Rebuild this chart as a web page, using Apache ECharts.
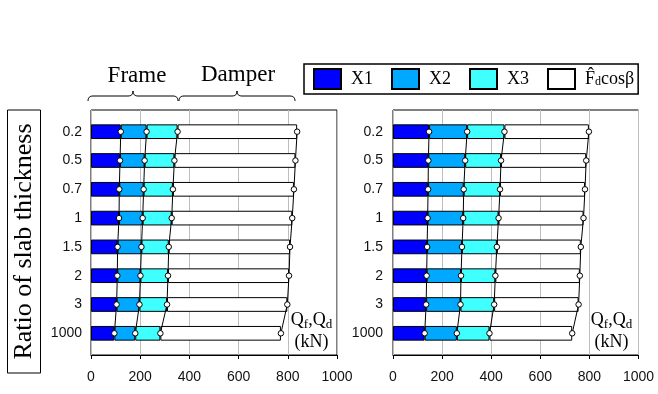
<!DOCTYPE html>
<html>
<head>
<meta charset="utf-8">
<script src="https://cdn.jsdelivr.net/npm/echarts@6/dist/echarts.min.js"></script>
<style>html,body{margin:0;padding:0;background:#fff}#c{width:658px;height:394px}</style>
</head>
<body>
<div id="c"></div>
<script>
const categories = ['0.2','0.5','0.7','1','1.5','2','3','1000'];
const xTicks = [0, 200, 400, 600, 800, 1000];
const seriesNames = ['X1','X2','X3','F'];
// Left panel segment values (kN)
const leftX1 = [121,118,115,114,108,107,104,95];
const leftX2 = [105,100,99,96,97,94,93,85];
const leftX3 = [126,121,119,118,111,112,112,102];
const leftF  = [486,492,492,490,493,492,489,490];
// Right panel segment values (kN)
const rightX1 = [147,144,143,141,139,137,135,129];
const rightX2 = [155,150,145,145,142,140,140,131];
const rightX3 = [152,146,148,144,142,140,137,133];
const rightF  = [344,347,346,346,342,344,344,337];

const colors = ['#0000FF','#00A8FF','#40FFFF','#FFFFFF'];
const sans = 'Liberation Sans';
const serif = 'Liberation Serif';

function cumul(arrs){
  const out=[]; let run=categories.map(()=>0);
  arrs.forEach(a=>{ run=run.map((v,i)=>v+a[i]); out.push(run.slice()); });
  return out;
}

const panels = [
  {segs:[leftX1,leftX2,leftX3,leftF], left:91, width:246},
  {segs:[rightX1,rightX2,rightX3,rightF], left:393, width:245.5}
];

const grid=[], xAxis=[], yAxis=[], series=[];
panels.forEach((p,pi)=>{
  const gB = grid.length;
  grid.push({left:p.left, width:p.width, top:110, height:245, show:true, borderColor:'#000', borderWidth:1, backgroundColor:'transparent'});
  grid.push({left:p.left, width:p.width, top:117.3, height:230.4});
  xAxis.push({gridIndex:gB, type:'value', min:xTicks[0], max:xTicks[xTicks.length-1], interval:xTicks[1]-xTicks[0],
    axisLine:{show:true,lineStyle:{color:'#000',width:1}},
    axisTick:{show:true,length:4,lineStyle:{color:'#000'}},
    axisLabel:{fontFamily:sans,fontSize:14,color:'#111',margin:15,formatter:v=>String(v)},
    splitLine:{show:true,lineStyle:{color:'#bdbdbd',width:1}}});
  xAxis.push({gridIndex:gB+1, type:'value', min:0, max:1000, show:false});
  yAxis.push({gridIndex:gB, type:'value', min:0, max:1, show:false});
  yAxis.push({gridIndex:gB+1, type:'category', data:categories, inverse:true,
    axisLine:{show:false}, axisTick:{show:false}, splitLine:{show:false},
    axisLabel:{fontFamily:sans,fontSize:14,color:'#111',margin:pi===0?9:10}});
  p.segs.forEach((s,si)=>{
    series.push({type:'bar', name:seriesNames[si], stack:'p'+pi, xAxisIndex:gB+1, yAxisIndex:gB+1,
      data:s, barWidth:'51%',
      itemStyle:{color:colors[si], borderColor:'#000', borderWidth:1}, z:2});
  });
  cumul(p.segs).forEach(c=>{
    series.push({type:'line', xAxisIndex:gB+1, yAxisIndex:gB+1,
      data:c.map((v,i)=>[v,i]), symbol:'circle', symbolSize:5.5,
      lineStyle:{color:'#000',width:1}, itemStyle:{color:'#fff',borderColor:'#000',borderWidth:1}, z:5});
  });
});

function quad(pts,p0,c,p1){
  for(let k=0;k<=8;k++){const t=k/8;
    pts.push([(1-t)*(1-t)*p0[0]+2*(1-t)*t*c[0]+t*t*p1[0],(1-t)*(1-t)*p0[1]+2*(1-t)*t*c[1]+t*t*p1[1]]);}
}
function brace(x0,x1,mid){
  const pts=[];
  quad(pts,[x0,101],[x0,96],[x0+5,96]);
  quad(pts,[mid-5,96],[mid,96],[mid,91]);
  quad(pts,[mid,91],[mid,96],[mid+5,96]);
  quad(pts,[x1-5,96],[x1,96],[x1,101]);
  return pts;
}
const qRich = {q:{fontFamily:serif,fontSize:18,color:'#000'}, s:{fontFamily:serif,fontSize:13,color:'#000',verticalAlign:'bottom',padding:[6,0,0,0]}};
const graphic = [
  {type:'rect', shape:{x:7.5,y:110,width:33,height:263}, style:{fill:'none',stroke:'#000',lineWidth:1}},
  {type:'text', x:24, y:241.5, rotation:Math.PI/2, style:{text:'Ratio of slab thickness', font:'26px '+serif, fill:'#000', align:'center', verticalAlign:'middle'}},
  {type:'polyline', shape:{points:brace(88,178,133)}, style:{fill:'none',stroke:'#000',lineWidth:1}},
  {type:'polyline', shape:{points:brace(179,295,237)}, style:{fill:'none',stroke:'#000',lineWidth:1}},
  {type:'text', x:137, y:76, style:{text:'Frame', font:'23px '+serif, fill:'#000', align:'center', verticalAlign:'middle'}},
  {type:'text', x:238, y:75, style:{text:'Damper', font:'23px '+serif, fill:'#000', align:'center', verticalAlign:'middle'}},
  {type:'text', x:311.5, y:309, style:{text:'{q|Q}{s|f}{q|,Q}{s|d}\n{q|(kN)}', rich:qRich, align:'center', lineHeight:22}},
  {type:'text', x:611.5, y:309, style:{text:'{q|Q}{s|f}{q|,Q}{s|d}\n{q|(kN)}', rich:qRich, align:'center', lineHeight:22}}
];

const chart = echarts.init(document.getElementById('c'), null, {renderer:'canvas'});
chart.setOption({
  animation:false,
  backgroundColor:'#fff',
  grid, xAxis, yAxis, series, graphic,
  legend:{data:seriesNames, left:304, top:64, orient:'horizontal', itemWidth:27, itemHeight:20, itemGap:18,
    padding:[4,4,4,9], borderColor:'#000', borderWidth:1.5, icon:'rect',
    textStyle:{fontFamily:serif,fontSize:18,color:'#000',padding:[0,0,0,5],
      rich:{f:{fontFamily:serif,fontSize:18,color:'#000'}, d:{fontFamily:serif,fontSize:12,color:'#000',verticalAlign:'bottom',padding:[6,0,0,0]}, t:{fontFamily:serif,fontSize:18,color:'#000'}}},
    formatter:function(n){ return n==='F' ? '{f|F\u0302}{d|d}{t|cos\u03B2}' : n; }}
});
</script>
</body>
</html>
